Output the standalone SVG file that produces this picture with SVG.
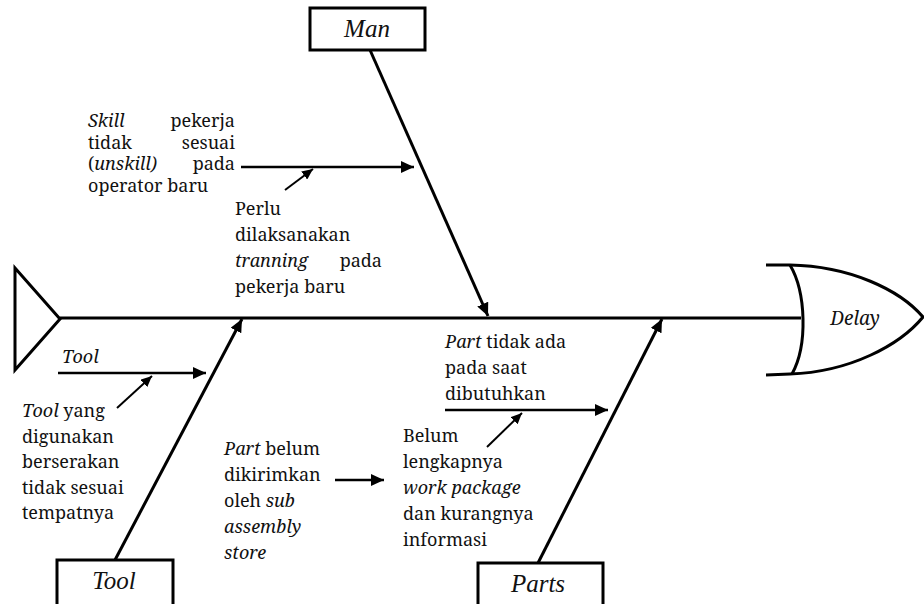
<svg xmlns="http://www.w3.org/2000/svg" width="924" height="604" viewBox="0 0 924 604">
<defs>
<marker id="ah" markerUnits="userSpaceOnUse" markerWidth="14" markerHeight="12" refX="13" refY="6" orient="auto">
<path d="M0,0 L13,6 L0,12 z" fill="#000"/>
</marker>
<marker id="as" markerUnits="userSpaceOnUse" markerWidth="12" markerHeight="10" refX="11" refY="5" orient="auto">
<path d="M0,0 L11,5 L0,10 z" fill="#000"/>
</marker>
</defs>
<rect width="924" height="604" fill="#fff"/>
<g id="head">
<path d="M766,265 L790,265 C850,266 900,290 923,317 C900,345 850,372 790,374 L766,375" fill="#fff" stroke="#000" stroke-width="3"/>
<path d="M790,265 C806,292 808,345 792,374" fill="none" stroke="#000" stroke-width="3"/>
<text x="855" y="325" text-anchor="middle" font-family="Noto Serif" font-style="italic" font-size="19" fill="#111">Delay</text>
</g>
<g id="connectors" stroke="#000" fill="none">
<line stroke-width="3" x1="60" y1="318" x2="801" y2="318"/>
<line stroke-width="3" x1="370" y1="50" x2="488" y2="316" marker-end="url(#ah)"/>
<line stroke-width="3" x1="115" y1="560" x2="242" y2="319" marker-end="url(#ah)"/>
<line stroke-width="3" x1="538" y1="563" x2="662" y2="319" marker-end="url(#ah)"/>
<line stroke-width="2.5" x1="241" y1="167" x2="414" y2="167" marker-end="url(#ah)"/>
<line stroke-width="2" x1="285" y1="190" x2="313" y2="169" marker-end="url(#as)"/>
<line stroke-width="2.5" x1="58" y1="373" x2="206" y2="373" marker-end="url(#ah)"/>
<line stroke-width="2" x1="117" y1="408" x2="152" y2="376" marker-end="url(#as)"/>
<line stroke-width="2.5" x1="335" y1="480" x2="384" y2="480" marker-end="url(#ah)"/>
<line stroke-width="2.5" x1="445" y1="410" x2="608" y2="410" marker-end="url(#ah)"/>
<line stroke-width="2" x1="487" y1="447" x2="522" y2="413" marker-end="url(#as)"/>
</g>
<g id="tail">
<path d="M15,268 L60,319 L15,370 Z" fill="#fff" stroke="#000" stroke-width="3"/>
</g>
<g id="man">
<rect x="310" y="8" width="115" height="42" fill="#fff" stroke="#000" stroke-width="3"/>
<text x="367" y="37" text-anchor="middle" font-family="Liberation Serif" font-style="italic" font-size="25" fill="#111">Man</text>
</g>
<g id="tool">
<rect x="57" y="560" width="116" height="46" fill="#fff" stroke="#000" stroke-width="3"/>
<text x="114" y="589" text-anchor="middle" font-family="Liberation Serif" font-style="italic" font-size="25" fill="#111">Tool</text>
</g>
<g id="parts">
<rect x="478" y="563" width="125" height="45" fill="#fff" stroke="#000" stroke-width="3"/>
<text x="538" y="592" text-anchor="middle" font-family="Liberation Serif" font-style="italic" font-size="25" fill="#111">Parts</text>
</g>
<g id="cause-skill">
<text font-family="Noto Serif" font-size="18" fill="#111" font-style="italic" x="88" y="127">Skill</text>
<text font-family="Noto Serif" font-size="18" fill="#111" x="235" y="127" text-anchor="end">pekerja</text>
<text font-family="Noto Serif" font-size="18" fill="#111" x="88" y="148.5">tidak</text>
<text font-family="Noto Serif" font-size="18" fill="#111" x="235" y="148.5" text-anchor="end">sesuai</text>
<text font-family="Noto Serif" font-size="18" fill="#111" x="88" y="170">(<tspan font-style="italic">unskill)</tspan></text>
<text font-family="Noto Serif" font-size="18" fill="#111" x="235" y="170" text-anchor="end">pada</text>
<text font-family="Noto Serif" font-size="18" fill="#111" x="88" y="191.5">operator baru</text>
</g>
<g id="cause-training">
<text font-family="Noto Serif" font-size="18" fill="#111" x="235" y="215">Perlu</text>
<text font-family="Noto Serif" font-size="18" fill="#111" x="235" y="241">dilaksanakan</text>
<text font-family="Noto Serif" font-size="18" fill="#111" font-style="italic" x="235" y="267">tranning</text>
<text font-family="Noto Serif" font-size="18" fill="#111" x="382" y="267" text-anchor="end">pada</text>
<text font-family="Noto Serif" font-size="18" fill="#111" x="235" y="293">pekerja baru</text>
</g>
<g id="cause-tool">
<text font-family="Noto Serif" font-size="18" fill="#111" font-style="italic" x="62" y="363">Tool</text>
</g>
<g id="cause-tool-scatter">
<text font-family="Noto Serif" font-size="18" fill="#111" x="22" y="417"><tspan font-style="italic">Tool</tspan> yang</text>
<text font-family="Noto Serif" font-size="18" fill="#111" x="22" y="442.5">digunakan</text>
<text font-family="Noto Serif" font-size="18" fill="#111" x="22" y="468">berserakan</text>
<text font-family="Noto Serif" font-size="18" fill="#111" x="22" y="493.5">tidak sesuai</text>
<text font-family="Noto Serif" font-size="18" fill="#111" x="22" y="519">tempatnya</text>
</g>
<g id="cause-part-store">
<text font-family="Noto Serif" font-size="18" fill="#111" x="224" y="455"><tspan font-style="italic">Part</tspan> belum</text>
<text font-family="Noto Serif" font-size="18" fill="#111" x="224" y="481">dikirimkan</text>
<text font-family="Noto Serif" font-size="18" fill="#111" x="224" y="507">oleh <tspan font-style="italic">sub</tspan></text>
<text font-family="Noto Serif" font-size="18" fill="#111" font-style="italic" x="224" y="533">assembly</text>
<text font-family="Noto Serif" font-size="18" fill="#111" font-style="italic" x="224" y="559">store</text>
</g>
<g id="cause-part-missing">
<text font-family="Noto Serif" font-size="18" fill="#111" x="445" y="348"><tspan font-style="italic">Part</tspan> tidak ada</text>
<text font-family="Noto Serif" font-size="18" fill="#111" x="445" y="374">pada saat</text>
<text font-family="Noto Serif" font-size="18" fill="#111" x="445" y="400">dibutuhkan</text>
</g>
<g id="cause-workpackage">
<text font-family="Noto Serif" font-size="18" fill="#111" x="403" y="442">Belum</text>
<text font-family="Noto Serif" font-size="18" fill="#111" x="403" y="468">lengkapnya</text>
<text font-family="Noto Serif" font-size="18" fill="#111" font-style="italic" x="403" y="494">work package</text>
<text font-family="Noto Serif" font-size="18" fill="#111" x="403" y="520">dan kurangnya</text>
<text font-family="Noto Serif" font-size="18" fill="#111" x="403" y="546">informasi</text>
</g>
</svg>
